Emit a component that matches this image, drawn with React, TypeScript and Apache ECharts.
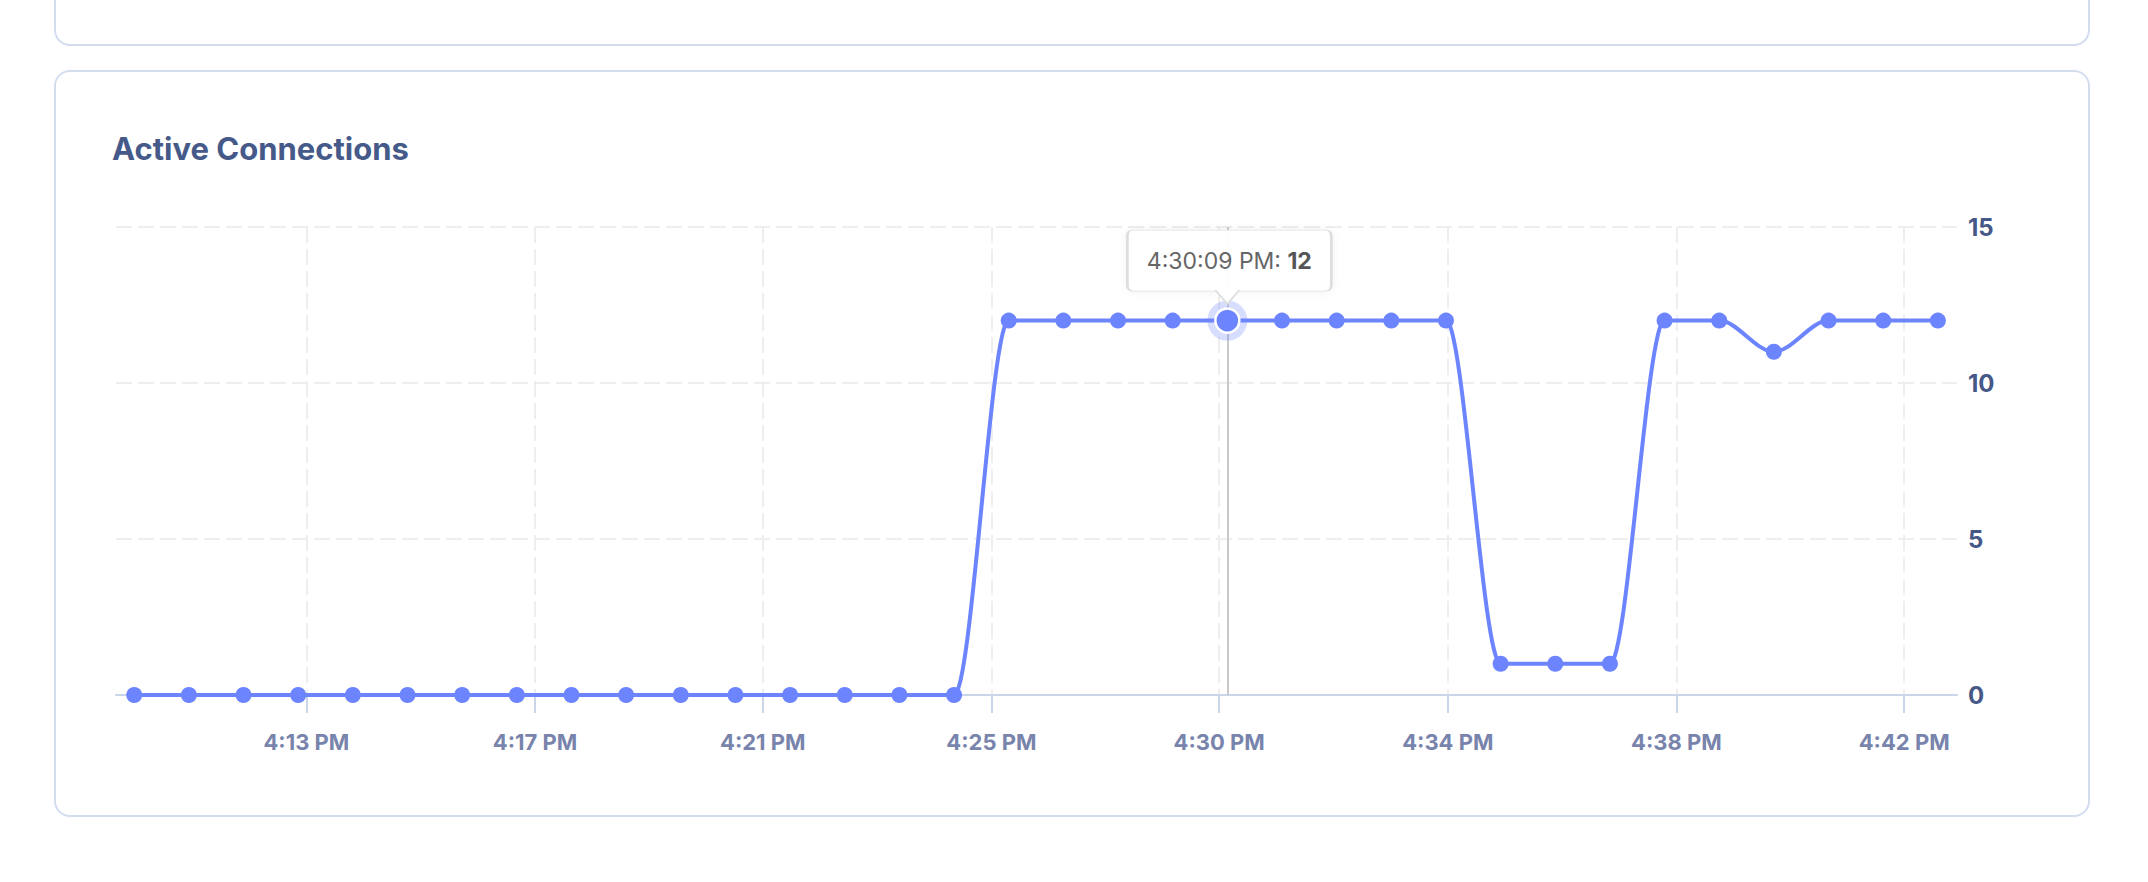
import React, { useEffect, useRef } from "react";
import * as echarts from "echarts";

// ---- data ----
const chartTitle = "Active Connections";
const pointTimes = [
  "16:10:09", "16:11:09", "16:12:09", "16:13:09", "16:14:09", "16:15:09", "16:16:09", "16:17:09",
  "16:18:09", "16:19:09", "16:20:09", "16:21:09", "16:22:09", "16:23:09", "16:24:09", "16:25:09",
  "16:26:09", "16:27:09", "16:28:09", "16:29:09", "16:30:09", "16:31:09", "16:32:09", "16:33:09",
  "16:34:09", "16:35:09", "16:36:09", "16:37:09", "16:38:09", "16:39:09", "16:40:09", "16:41:09",
  "16:42:09", "16:43:09",
];
const connections = [
  0, 0, 0, 0, 0, 0, 0, 0,
  0, 0, 0, 0, 0, 0, 0, 0,
  12, 12, 12, 12, 12, 12, 12, 12,
  12, 1, 1, 1, 12, 12, 11, 12,
  12, 12,
];
const tickTimes = ["16:13:18", "16:17:29", "16:21:39", "16:25:50", "16:30:00", "16:34:11", "16:38:22", "16:42:32"];
const tickLabels = ["4:13 PM", "4:17 PM", "4:21 PM", "4:25 PM", "4:30 PM", "4:34 PM", "4:38 PM", "4:42 PM"];
const axisStartTime = "16:09:49";
const axisEndTime = "16:43:30";
const yMin = 0;
const yMax = 15;
const yStep = 5;
const highlightIndex = 20;

// ---- helpers ----
const toMs = (s: string) => {
  const [h, m, sec] = s.split(":").map(Number);
  return new Date(2024, 0, 1, h, m, sec).getTime();
};
const to12h = (s: string) => {
  const [h, m, sec] = s.split(":").map(Number);
  const hh = h % 12 === 0 ? 12 : h % 12;
  const ap = h >= 12 ? "PM" : "AM";
  return `${hh}:${String(m).padStart(2, "0")}:${String(sec).padStart(2, "0")} ${ap}`;
};

const LINE = "#6d84ff";
const FONT = "Inter, 'Noto Sans', sans-serif";

export default function App() {
  const ref = useRef<HTMLDivElement>(null);

  useEffect(() => {
    if (!ref.current) return;
    const chart = echarts.init(ref.current, undefined, { renderer: "svg" });
    const tickMs = tickTimes.map(toMs);
    const seriesData = pointTimes.map((t, i) => [toMs(t), connections[i]]);
    const hx = toMs(pointTimes[highlightIndex]);
    const hy = connections[highlightIndex];

    const boxW = 204;
    const boxH = 61;
    const r = 6;
    const boxPath = `path://M${r},0L${boxW - r},0Q${boxW},0 ${boxW},${r}L${boxW},${boxH - r}Q${boxW},${boxH} ${boxW - r},${boxH}L${r},${boxH}Q0,${boxH} 0,${boxH - r}L0,${r}Q0,0 ${r},0Z`;

    chart.setOption({
      animation: false,
      textStyle: { fontFamily: FONT },
      graphic: [
        {
          type: "rect",
          z: -10,
          shape: { x: 55, y: -60, width: 2034, height: 105, r: 15 },
          style: { fill: "#fff", stroke: "#d3ddef", lineWidth: 2 },
        },
        {
          type: "rect",
          z: -10,
          shape: { x: 55, y: 71, width: 2034, height: 745, r: 15 },
          style: { fill: "#fff", stroke: "#d3ddef", lineWidth: 2 },
        },
        {
          type: "text",
          x: 112,
          y: 148,
          style: {
            text: chartTitle,
            fill: "#465a8a",
            font: `700 31px ${FONT}`,
            verticalAlign: "middle",
            align: "left",
          },
        },
      ],
      grid: { left: 116, top: 227, width: 1841, height: 468, containLabel: false },
      xAxis: {
        type: "value",
        min: toMs(axisStartTime),
        max: toMs(axisEndTime),
        axisLine: { show: true, lineStyle: { color: "#cad5ea", width: 2 } },
        axisTick: { show: true, customValues: tickMs, length: 18, lineStyle: { color: "#cad5ea", width: 2 } },
        axisLabel: {
          customValues: tickMs,
          margin: 36,
          color: "#7884ac",
          fontSize: 22,
          fontWeight: 700,
          fontFamily: FONT,
          formatter: (v: number) => {
            let best = 0;
            tickMs.forEach((t, i) => {
              if (Math.abs(t - v) < Math.abs(tickMs[best] - v)) best = i;
            });
            return tickLabels[best];
          },
        },
        splitLine: { show: true, lineStyle: { color: "#eeeeee", width: 2, type: [16, 6] } },
      },
      yAxis: {
        type: "value",
        position: "right",
        min: yMin,
        max: yMax,
        interval: yStep,
        axisLine: { show: false },
        axisTick: { show: false },
        axisLabel: { margin: 11, color: "#465887", fontSize: 24, fontWeight: 700, fontFamily: FONT },
        splitLine: { show: true, lineStyle: { color: "#eeeeee", width: 2, type: [16, 6] } },
      },
      series: [
        {
          type: "line",
          data: seriesData,
          smooth: 0.33,
          smoothMonotone: "x",
          symbol: "circle",
          symbolSize: 16,
          showSymbol: true,
          silent: true,
          lineStyle: { color: LINE, width: 4 },
          itemStyle: { color: LINE },
          markLine: {
            silent: true,
            z: 4,
            symbol: ["none", "none"],
            label: { show: false },
            lineStyle: { color: "#c9c9c9", width: 2, type: "solid" },
            data: [{ xAxis: hx }],
          },
          markPoint: {
            silent: true,
            z: 6,
            data: [
              {
                coord: [hx, hy],
                symbol: "circle",
                symbolSize: 40,
                itemStyle: { color: "rgba(109,132,255,0.28)", borderWidth: 0 },
                label: { show: false },
              },
              {
                coord: [hx, hy],
                symbol: "circle",
                symbolSize: 24,
                itemStyle: { color: LINE, borderColor: "#fff", borderWidth: 2.5 },
                label: { show: false },
              },
              {
                coord: [hx, hy],
                symbol: boxPath,
                symbolSize: [boxW, boxH],
                symbolOffset: [2, -60],
                itemStyle: {
                  color: "rgba(255,255,255,0.94)",
                  borderColor: "#dddddd",
                  borderWidth: 1.5,
                  shadowBlur: 8,
                  shadowColor: "rgba(0,0,0,0.06)",
                },
                label: {
                  show: true,
                  position: "inside",
                  formatter: `{t|${to12h(pointTimes[highlightIndex])}: }{v|${hy}}`,
                  rich: {
                    t: { fontSize: 23, color: "#666", fontFamily: FONT },
                    v: { fontSize: 23, fontWeight: 700, color: "#555", fontFamily: FONT },
                  },
                },
              },
              {
                coord: [hx, hy],
                symbol: "path://M0,0L12,12L24,0",
                symbolSize: [24, 14],
                symbolOffset: [0, -23.5],
                itemStyle: { color: "#fff", borderColor: "#dddddd", borderWidth: 1.5 },
                label: { show: false },
              },
            ],
          },
        },
      ],
    });
    return () => chart.dispose();
  }, []);

  return (
    <div
      ref={ref}
      style={{ position: "absolute", left: 0, top: 0, width: 2148, height: 882, background: "#fff" }}
    />
  );
}
